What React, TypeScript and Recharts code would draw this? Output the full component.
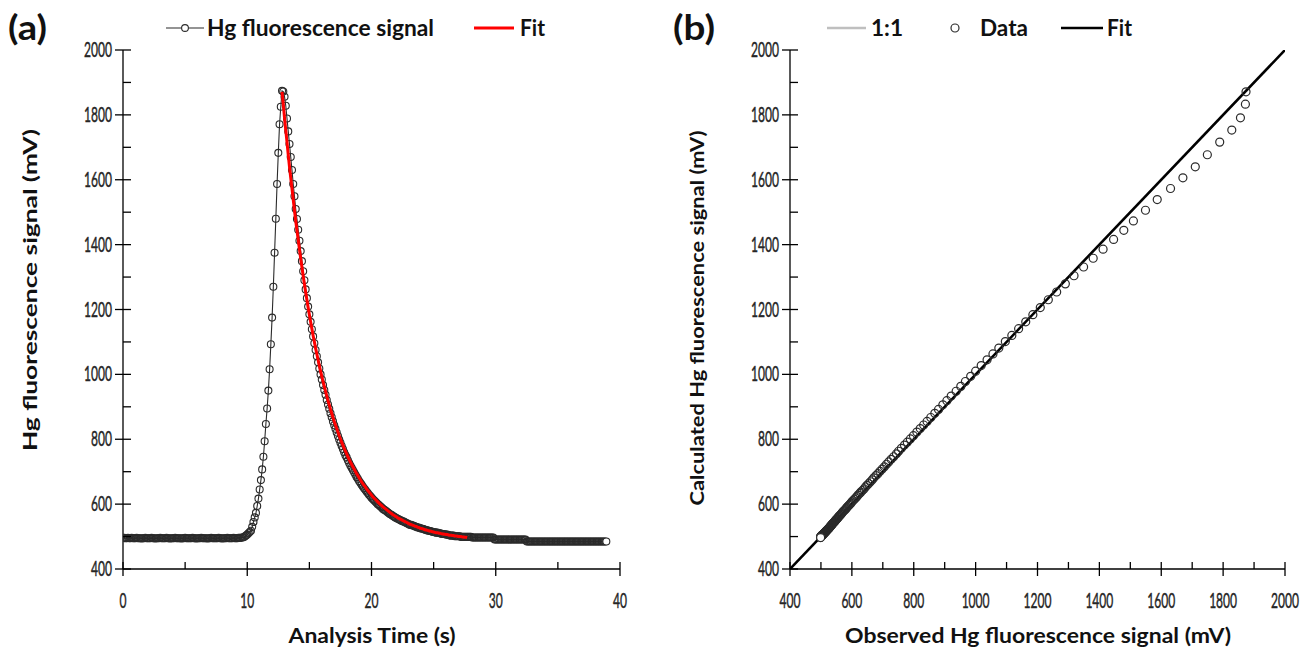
import React from "react";
import { ComposedChart, Line, Scatter, XAxis, YAxis } from "recharts";

// sampling interval of the Hg detector trace, seconds
const SAMPLE_STEP_S = 0.1;
// index of the peak sample, where the fit starts
const FIT_START_INDEX = 128;

// Hg fluorescence signal (mV), one value per sample
const hgSignal = [
  496, 496, 495, 495, 496, 495, 495, 496, 495, 495,
  495, 496, 495, 495, 495, 494, 495, 495, 496, 495,
  495, 495, 495, 496, 495, 495, 494, 495, 495, 495,
  496, 495, 495, 495, 495, 496, 495, 495, 494, 495,
  495, 495, 496, 495, 495, 495, 495, 494, 495, 495,
  496, 495, 495, 495, 495, 495, 496, 495, 495, 494,
  495, 495, 495, 496, 495, 495, 495, 495, 494, 495,
  495, 496, 495, 495, 495, 495, 495, 496, 495, 495,
  494, 495, 495, 495, 496, 495, 495, 495, 495, 496,
  495, 495, 495, 496, 496, 496, 497, 498, 500, 503,
  506, 510, 514, 518, 530, 545, 559, 573, 594, 617,
  645, 674, 707, 746, 794, 847, 895, 950, 1016, 1093,
  1175, 1270, 1375, 1480, 1587, 1683, 1771, 1825, 1874, 1872,
  1856, 1828, 1789, 1749, 1710, 1670, 1630, 1587, 1549, 1510,
  1479, 1446, 1412, 1380, 1349, 1318, 1290, 1262, 1235, 1209,
  1185, 1162, 1139, 1117, 1096, 1075, 1056, 1037, 1018, 1000,
  984, 967, 952, 937, 921, 907, 894, 880, 868, 855,
  843, 832, 821, 810, 799, 789, 779, 770, 760, 751,
  744, 735, 727, 719, 712, 705, 698, 691, 684, 678,
  671, 666, 660, 654, 649, 644, 639, 634, 629, 625,
  620, 616, 612, 608, 604, 600, 597, 593, 590, 586,
  583, 581, 578, 575, 572, 569, 567, 564, 562, 559,
  557, 555, 553, 551, 549, 547, 546, 544, 542, 540,
  538, 536, 536, 534, 533, 531, 530, 528, 528, 526,
  525, 524, 523, 521, 520, 519, 518, 517, 516, 515,
  514, 513, 512, 512, 511, 510, 509, 508, 508, 507,
  506, 506, 505, 503, 503, 503, 503, 501, 501, 501,
  501, 501, 499, 499, 499, 499, 499, 499, 499, 499,
  499, 497, 497, 497, 497, 497, 497, 497, 497, 497,
  497, 497, 497, 497, 497, 497, 497, 497, 497, 491,
  491, 491, 491, 491, 491, 491, 491, 491, 491, 491,
  491, 491, 491, 491, 491, 491, 491, 491, 491, 491,
  491, 491, 491, 491, 491, 485, 485, 485, 485, 485,
  485, 485, 485, 485, 485, 485, 485, 485, 485, 485,
  485, 485, 485, 485, 485, 485, 485, 485, 485, 485,
  485, 485, 485, 485, 485, 485, 485, 485, 485, 485,
  485, 485, 485, 485, 485, 485, 485, 485, 485, 485,
  485, 485, 485, 485, 485, 485, 485, 485, 485, 485,
  485, 485, 485, 485, 485, 485, 485, 485, 485, 485,
];

// fitted (calculated) signal from the peak onwards, mV
const hgFit = [
  1871, 1833, 1791, 1753, 1716, 1677, 1640, 1606, 1573, 1539,
  1506, 1473, 1444, 1416, 1386, 1358, 1331, 1304, 1279, 1254,
  1230, 1206, 1184, 1162, 1141, 1120, 1101, 1081, 1063, 1045,
  1027, 1010, 994, 978, 963, 948, 933, 919, 906, 892,
  880, 867, 855, 844, 833, 822, 811, 801, 791, 782,
  772, 763, 755, 746, 738, 730, 723, 715, 708, 701,
  694, 688, 681, 675, 669, 663, 658, 653, 647, 642,
  637, 633, 628, 623, 619, 615, 611, 607, 603, 599,
  596, 592, 589, 586, 583, 580, 577, 574, 571, 568,
  566, 563, 561, 558, 556, 554, 552, 550, 548, 546,
  544, 542, 540, 538, 537, 535, 534, 532, 531, 529,
  528, 526, 525, 524, 523, 521, 520, 519, 518, 517,
  516, 515, 514, 513, 512, 512, 511, 510, 509, 508,
  508, 507, 506, 506, 505, 504, 504, 503, 503, 502,
  502, 501, 500, 500, 500, 499, 499, 498, 498, 497,
];

const timeTicks = [0, 5, 10, 15, 20, 25, 30, 35, 40];
const mvTicks = [
  400, 500, 600, 700, 800, 900, 1000, 1100, 1200, 1300, 1400,
  1500, 1600, 1700, 1800, 1900, 2000,
];
const oneToOneX = [400, 2000];
const oneToOneY = [400, 2000];
const fitLineX = [400, 2000];
const fitLineY = [400, 2000];

const signalRows = hgSignal.map((v, i) => ({
  t: Math.round(i * SAMPLE_STEP_S * 10) / 10,
  signal: v,
}));
const fitRows = hgFit.map((v, k) => ({
  t: Math.round((FIT_START_INDEX + k) * SAMPLE_STEP_S * 10) / 10,
  fit: v,
}));
const scatterRows = hgFit.map((v, k) => ({
  observed: hgSignal[FIT_START_INDEX + k],
  calculated: v,
}));
const oneToOneRows = oneToOneX.map((x, i) => ({ observed: x, calculated: oneToOneY[i] }));
const fitLineRows = fitLineX.map((x, i) => ({ observed: x, calculated: fitLineY[i] }));

const FONT = "Lato, 'Open Sans', sans-serif";
const INK = "#000";
const MARK = "#2b2b2b";
const DIGIT_W = 7;

function SqText({ x, y, width, size, bold = false, anchor = "start", rotate = 0, fill = "#111", weight = 0, children }: any) {
  return (
    <text
      x={x}
      y={y}
      fontFamily={FONT}
      fontSize={size}
      fontWeight={bold ? 700 : 400}
      fill={fill}
      stroke={weight ? fill : undefined}
      strokeWidth={weight || undefined}
      textAnchor={anchor}
      textLength={width}
      lengthAdjust="spacingAndGlyphs"
      transform={rotate ? `rotate(${rotate} ${x} ${y})` : undefined}
    >
      {children}
    </text>
  );
}

function mvTickLeft(props: any) {
  const { x, y, payload } = props;
  const v = payload.value;
  const major = v % 200 === 0;
  return (
    <g>
      <line x1={major ? x - 8 : x} x2={x + 8} y1={y} y2={y} stroke={INK} strokeWidth={1.3} />
      {major && (
        <SqText x={x - 11} y={y + 7} width={String(v).length * DIGIT_W} size={21} fill="#262626" weight={0.45} anchor="end">
          {v}
        </SqText>
      )}
    </g>
  );
}

function bottomTick(step: number) {
  return (props: any) => {
    const { x, y, payload } = props;
    const v = payload.value;
    const major = v % step === 0;
    return (
      <g>
        <line x1={x} x2={x} y1={y - 7} y2={major ? y + 7 : y} stroke={INK} strokeWidth={1.3} />
        {major && (
          <SqText x={x} y={y + 39} width={String(v).length * DIGIT_W} size={21} fill="#262626" weight={0.45} anchor="middle">
            {v}
          </SqText>
        )}
      </g>
    );
  };
}

// hollow markers, the last sample drawn filled white
function signalDot(props: any) {
  const { cx, cy, index } = props;
  const last = index === hgSignal.length - 1;
  return (
    <circle key={index} cx={cx} cy={cy} r={3.5} fill={last ? "#fff" : "none"} stroke={MARK} strokeWidth={1.1} />
  );
}

function dataDot(props: any) {
  const { cx, cy, index } = props;
  const last = index === scatterRows.length - 1;
  return <circle cx={cx} cy={cy} r={4} fill={last ? "#fff" : "none"} stroke={MARK} strokeWidth={1.2} />;
}

const axisLine = { stroke: INK, strokeWidth: 1.3 };

function Overlay() {
  return (
    <svg width={1315} height={647} style={{ position: "absolute", left: 0, top: 0, pointerEvents: "none" }}>
      <SqText x={8} y={40} width={39} size={34} bold>(a)</SqText>
      <SqText x={673} y={40} width={42} size={34} bold>(b)</SqText>

      {/* legend (a) */}
      <line x1={166} x2={204} y1={28} y2={28} stroke={MARK} strokeWidth={1.2} />
      <circle cx={185} cy={28} r={3.4} fill="#fff" stroke={MARK} strokeWidth={1.1} />
      <SqText x={207} y={36} width={227} size={22} bold>Hg fluorescence signal</SqText>
      <line x1={474} x2={514} y1={28} y2={28} stroke="#ff0000" strokeWidth={3} />
      <SqText x={520} y={36} width={25} size={22} bold>Fit</SqText>

      {/* legend (b) */}
      <line x1={827} x2={866} y1={28} y2={28} stroke="#bfbfbf" strokeWidth={2.5} />
      <SqText x={871} y={36} width={32} size={22} bold>1:1</SqText>
      <circle cx={955} cy={28} r={4} fill="#fff" stroke={MARK} strokeWidth={1.2} />
      <SqText x={980} y={36} width={48} size={22} bold>Data</SqText>
      <line x1={1061} x2={1103} y1={28} y2={28} stroke="#000" strokeWidth={2.5} />
      <SqText x={1107} y={36} width={25} size={22} bold>Fit</SqText>

      {/* axis titles */}
      <SqText x={372} y={643} width={167} size={21} bold anchor="middle">Analysis Time (s)</SqText>
      <SqText x={1038} y={643} width={386} size={21} bold anchor="middle">
        Observed Hg fluorescence signal (mV)
      </SqText>
      <SqText x={37} y={290} width={322} size={19} bold anchor="middle" rotate={-90}>
        Hg fluorescence signal (mV)
      </SqText>
      <SqText x={704} y={318} width={375} size={19} bold anchor="middle" rotate={-90}>
        Calculated Hg fluorescence signal (mV)
      </SqText>
    </svg>
  );
}

export default function App() {
  return (
    <div style={{ position: "absolute", left: 0, top: 0, width: 1315, height: 647, background: "#fff" }}>
      <div style={{ position: "absolute", left: 0, top: 0 }}>
        <ComposedChart width={660} height={647} margin={{ top: 50, right: 40, bottom: 0, left: 0 }}>
          <XAxis
            type="number"
            dataKey="t"
            domain={[0, 40]}
            ticks={timeTicks}
            interval={0}
            height={78}
            tickSize={0}
            tickMargin={0}
            tickLine={false}
            axisLine={axisLine}
            tick={bottomTick(10)}
            allowDataOverflow
          />
          <YAxis
            type="number"
            domain={[400, 2000]}
            ticks={mvTicks}
            interval={0}
            width={123}
            tickSize={0}
            tickMargin={0}
            tickLine={false}
            axisLine={axisLine}
            tick={mvTickLeft}
            allowDataOverflow
          />
          <Line
            data={signalRows}
            dataKey="signal"
            type="linear"
            stroke={MARK}
            strokeWidth={1.1}
            dot={signalDot}
            isAnimationActive={false}
          />
        </ComposedChart>
      </div>

      {/* fit curve on its own layer so it sits above the signal markers */}
      <div style={{ position: "absolute", left: 0, top: 0 }}>
        <ComposedChart width={660} height={647} margin={{ top: 50, right: 40, bottom: 78, left: 123 }}>
          <XAxis type="number" dataKey="t" domain={[0, 40]} hide allowDataOverflow />
          <YAxis type="number" domain={[400, 2000]} hide allowDataOverflow />
          <Line
            data={fitRows}
            dataKey="fit"
            type="linear"
            stroke="#ff0000"
            strokeWidth={3}
            dot={false}
            isAnimationActive={false}
          />
        </ComposedChart>
      </div>

      <div style={{ position: "absolute", left: 660, top: 0 }}>
        <ComposedChart width={655} height={647} margin={{ top: 50, right: 30, bottom: 0, left: 0 }}>
          <XAxis
            type="number"
            dataKey="observed"
            domain={[400, 2000]}
            ticks={mvTicks}
            interval={0}
            height={78}
            tickSize={0}
            tickMargin={0}
            tickLine={false}
            axisLine={axisLine}
            tick={bottomTick(200)}
            allowDataOverflow
          />
          <YAxis
            type="number"
            dataKey="calculated"
            domain={[400, 2000]}
            ticks={mvTicks}
            interval={0}
            width={130}
            tickSize={0}
            tickMargin={0}
            tickLine={false}
            axisLine={axisLine}
            tick={mvTickLeft}
            allowDataOverflow
          />
          <Line
            data={oneToOneRows}
            dataKey="calculated"
            type="linear"
            stroke="#bfbfbf"
            strokeWidth={2.5}
            dot={false}
            isAnimationActive={false}
          />
          <Line
            data={fitLineRows}
            dataKey="calculated"
            type="linear"
            stroke="#000"
            strokeWidth={2.5}
            dot={false}
            isAnimationActive={false}
          />
          <Scatter data={scatterRows} dataKey="calculated" isAnimationActive={false} shape={dataDot} />
        </ComposedChart>
      </div>

      <Overlay />
    </div>
  );
}
